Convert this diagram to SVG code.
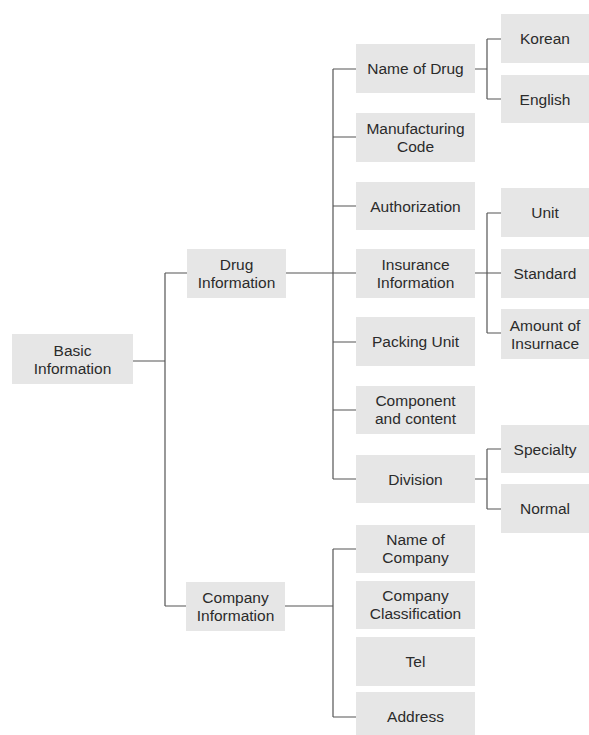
<svg xmlns="http://www.w3.org/2000/svg" width="589" height="735" viewBox="0 0 589 735">
<style>
.b{fill:#e6e6e6}
.t{font-family:"Liberation Sans",Arial,sans-serif;font-size:15.5px;fill:#2b2b2b;text-anchor:middle}
.c{stroke:#555;stroke-width:1.2;fill:none}
</style>
<rect width="589" height="735" fill="#fff"/>
<g id="connectors" class="c">
<path d="M133 361H165M165 273V606M165 273H187M165 606H186"/>
<path d="M286 273H356M333 69V479M333 69H356M333 137H356M333 206H356M333 342H356M333 410H356M333 479H356"/>
<path d="M285 606H333M333 549V717M333 549H356M333 717H356"/>
<path d="M475 69H487M487 39V99M487 39H501M487 99H501"/>
<path d="M475 273H501M487 213V333M487 213H501M487 333H501"/>
<path d="M475 479H487M487 449V509M487 449H501M487 509H501"/>
</g>
<g id="basic"><rect class="b" x="12" y="334" width="121" height="50"/><text class="t" x="72.5" y="355.5">Basic</text><text class="t" x="72.5" y="373.5">Information</text></g>
<g id="drug"><rect class="b" x="187" y="249" width="99" height="49"/><text class="t" x="236.5" y="270">Drug</text><text class="t" x="236.5" y="288">Information</text></g>
<g id="company"><rect class="b" x="186" y="582" width="99" height="49"/><text class="t" x="235.5" y="603">Company</text><text class="t" x="235.5" y="621">Information</text></g>
<g id="name-drug"><rect class="b" x="356" y="44" width="119" height="49"/><text class="t" x="415.5" y="74">Name of Drug</text></g>
<g id="manufacturing"><rect class="b" x="356" y="113" width="119" height="49"/><text class="t" x="415.5" y="134">Manufacturing</text><text class="t" x="415.5" y="152">Code</text></g>
<g id="authorization"><rect class="b" x="356" y="182" width="119" height="48"/><text class="t" x="415.5" y="211.5">Authorization</text></g>
<g id="insurance"><rect class="b" x="356" y="249" width="119" height="49"/><text class="t" x="415.5" y="270">Insurance</text><text class="t" x="415.5" y="288">Information</text></g>
<g id="packing"><rect class="b" x="356" y="317" width="119" height="49"/><text class="t" x="415.5" y="347">Packing Unit</text></g>
<g id="component"><rect class="b" x="356" y="386" width="119" height="48"/><text class="t" x="415.5" y="406">Component</text><text class="t" x="415.5" y="424">and content</text></g>
<g id="division"><rect class="b" x="356" y="455" width="119" height="48"/><text class="t" x="415.5" y="484.5">Division</text></g>
<g id="name-company"><rect class="b" x="356" y="525" width="119" height="48"/><text class="t" x="415.5" y="545">Name of</text><text class="t" x="415.5" y="563">Company</text></g>
<g id="company-class"><rect class="b" x="356" y="581" width="119" height="48"/><text class="t" x="415.5" y="601">Company</text><text class="t" x="415.5" y="619">Classification</text></g>
<g id="tel"><rect class="b" x="356" y="637" width="119" height="49"/><text class="t" x="415.5" y="667">Tel</text></g>
<g id="address"><rect class="b" x="356" y="692" width="119" height="49"/><text class="t" x="415.5" y="722">Address</text></g>
<g id="korean"><rect class="b" x="501" y="14" width="88" height="49"/><text class="t" x="545" y="44">Korean</text></g>
<g id="english"><rect class="b" x="501" y="75" width="88" height="48"/><text class="t" x="545" y="104.5">English</text></g>
<g id="unit"><rect class="b" x="501" y="188" width="88" height="49"/><text class="t" x="545" y="218">Unit</text></g>
<g id="standard"><rect class="b" x="501" y="249" width="88" height="49"/><text class="t" x="545" y="279">Standard</text></g>
<g id="amount"><rect class="b" x="501" y="309" width="88" height="50"/><text class="t" x="545" y="330.5">Amount of</text><text class="t" x="545" y="348.5">Insurnace</text></g>
<g id="specialty"><rect class="b" x="501" y="425" width="88" height="48"/><text class="t" x="545" y="454.5">Specialty</text></g>
<g id="normal"><rect class="b" x="501" y="484" width="88" height="49"/><text class="t" x="545" y="514">Normal</text></g>
</svg>
